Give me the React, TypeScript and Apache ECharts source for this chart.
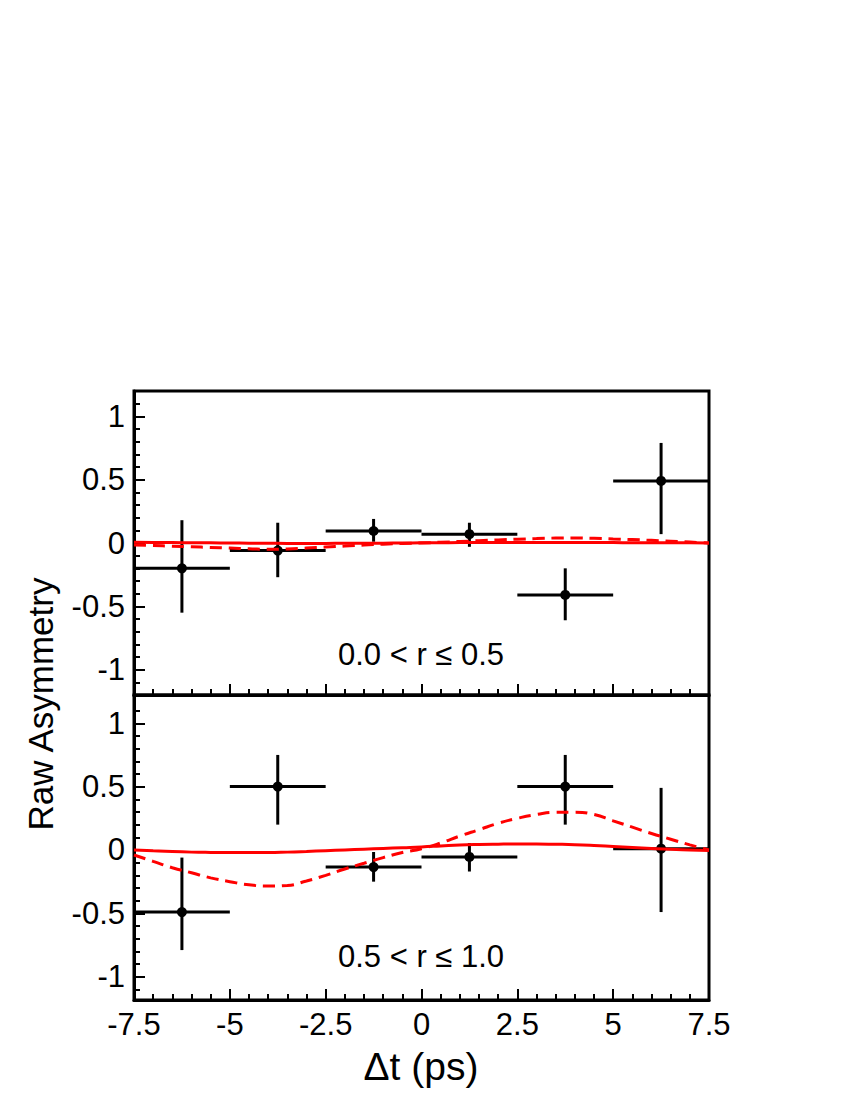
import React, { useEffect, useRef } from "react";
import * as echarts from "echarts";

// Bin centres (Δt, ps) and bin half width
const binCenters = [-6.25, -3.75, -1.25, 1.25, 3.75, 6.25];
const binHalfWidth = 1.25;

// Panel 1: 0.0 < r <= 0.5
const topValues = [-0.2, -0.06, 0.095, 0.07, -0.41, 0.49];
const topLow = [-0.55, -0.27, 0.01, -0.03, -0.61, 0.07];
const topHigh = [0.18, 0.16, 0.19, 0.16, -0.2, 0.79];

// Panel 2: 0.5 < r <= 1.0
const botValues = [-0.49, 0.5, -0.135, -0.055, 0.5, 0.01];
const botLow = [-0.79, 0.2, -0.25, -0.17, 0.2, -0.49];
const botHigh = [-0.06, 0.75, -0.016, 0.055, 0.75, 0.49];

// Fit curves sampled at these Δt values
const curveT = [
  -7.5, -7, -6.5, -6, -5.5, -5, -4.5, -4, -3.5, -3, -2.5, -2, -1.5, -1, -0.5, 0,
  0.5, 1, 1.5, 2, 2.5, 3, 3.5, 4, 4.5, 5, 5.5, 6, 6.5, 7, 7.5,
];
const topSolid = [
  0.005, 0.004, 0.003, 0.002, 0.001, 0, -0.001, -0.002, -0.003, -0.003, -0.003, -0.002, -0.002, -0.001, 0, 0.001,
  0.002, 0.003, 0.003, 0.004, 0.004, 0.004, 0.004, 0.004, 0.003, 0.003, 0.002, 0.002, 0.001, 0.001, 0,
];
const topDashed = [
  -0.015, -0.02, -0.025, -0.03, -0.035, -0.04, -0.045, -0.05, -0.048, -0.04, -0.032, -0.024, -0.016, -0.009, -0.004, 0,
  0.006, 0.012, 0.018, 0.024, 0.03, 0.035, 0.039, 0.04, 0.037, 0.032, 0.027, 0.021, 0.014, 0.007, 0,
];
const botSolid = [
  0, -0.007, -0.013, -0.017, -0.019, -0.02, -0.02, -0.02, -0.017, -0.012, -0.006, 0, 0.006, 0.012, 0.018, 0.024,
  0.032, 0.04, 0.044, 0.046, 0.047, 0.047, 0.045, 0.042, 0.036, 0.028, 0.02, 0.012, 0.005, 0, -0.005,
];
const botDashed = [
  -0.04, -0.09, -0.14, -0.18, -0.22, -0.25, -0.275, -0.285, -0.28, -0.245, -0.2, -0.15, -0.105, -0.06, -0.02, 0.01,
  0.055, 0.11, 0.16, 0.21, 0.25, 0.28, 0.297, 0.298, 0.28, 0.23, 0.18, 0.13, 0.085, 0.04, 0,
];

// Axis ticks
const yMajorTicks = [-1, -0.5, 0, 0.5, 1];
const yMinorTicks = [-1.1, -0.9, -0.8, -0.7, -0.6, -0.4, -0.3, -0.2, -0.1, 0.1, 0.2, 0.3, 0.4, 0.6, 0.7, 0.8, 0.9, 1.1];

const panelLabels = ["0.0 < r \u2264 0.5", "0.5 < r \u2264 1.0"];
const xTitle = "\u0394t (ps)";
const yTitle = "Raw Asymmetry";

const FONT = "Liberation Sans, Arial, Helvetica, sans-serif";

function errorSeries(xAxisIndex: number, yAxisIndex: number, values: number[], low: number[], high: number[]) {
  const data = binCenters.map((x, i) => [x, values[i], low[i], high[i]]);
  return {
    type: "custom",
    xAxisIndex,
    yAxisIndex,
    z: 2,
    clip: true,
    data,
    renderItem: (params: any, api: any) => {
      const x = api.value(0);
      const y = api.value(1);
      const lo = api.value(2);
      const hi = api.value(3);
      const pC = api.coord([x, y]);
      const pL = api.coord([x - binHalfWidth, y]);
      const pR = api.coord([x + binHalfWidth, y]);
      const pLo = api.coord([x, lo]);
      const pHi = api.coord([x, hi]);
      const st = { stroke: "#000", lineWidth: 3 };
      return {
        type: "group",
        children: [
          { type: "line", shape: { x1: pL[0], y1: pL[1], x2: pR[0], y2: pR[1] }, style: st },
          { type: "line", shape: { x1: pLo[0], y1: pLo[1], x2: pHi[0], y2: pHi[1] }, style: st },
          { type: "circle", shape: { cx: pC[0], cy: pC[1], r: 5 }, style: { fill: "#000" } },
        ],
      };
    },
  };
}

function curveSeries(xAxisIndex: number, yAxisIndex: number, ys: number[], dashed: boolean) {
  return {
    type: "line",
    xAxisIndex,
    yAxisIndex,
    z: 3,
    smooth: true,
    showSymbol: false,
    symbol: "none",
    data: curveT.map((t, i) => [t, ys[i]]),
    lineStyle: { color: "#ff0000", width: 3, type: dashed ? [12, 7] : "solid" },
  };
}

function xAxis(gridIndex: number, showLabels: boolean) {
  return {
    type: "value",
    gridIndex,
    min: -7.5,
    max: 7.5,
    interval: 2.5,
    axisLine: { show: true, onZero: false, lineStyle: { color: "#000", width: 3 } },
    axisTick: { show: true, inside: true, length: 11, lineStyle: { color: "#000", width: 2 } },
    minorTick: { show: true, splitNumber: 5, length: 6, lineStyle: { color: "#000", width: 2 } },
    axisLabel: {
      show: showLabels,
      color: "#000",
      fontSize: 31,
      fontFamily: FONT,
      margin: 9,
    },
    splitLine: { show: false },
    minorSplitLine: { show: false },
  };
}

function yAxes(gridIndex: number, min: number, max: number) {
  return [
    {
      type: "value",
      gridIndex,
      min,
      max,
      position: "left",
      axisLine: { show: true, onZero: false, lineStyle: { color: "#000", width: 3 } },
      axisTick: {
        show: true,
        inside: true,
        length: 11,
        customValues: yMajorTicks,
        lineStyle: { color: "#000", width: 2 },
      },
      axisLabel: {
        show: true,
        customValues: yMajorTicks,
        color: "#000",
        fontSize: 31,
        fontFamily: FONT,
        margin: 9,
        formatter: (v: number) => String(v),
      },
      splitLine: { show: false },
    },
    {
      type: "value",
      gridIndex,
      min,
      max,
      position: "left",
      offset: 0,
      axisLine: { show: false, onZero: false },
      axisTick: {
        show: true,
        inside: true,
        length: 6,
        customValues: yMinorTicks,
        lineStyle: { color: "#000", width: 2 },
      },
      axisLabel: { show: false },
      splitLine: { show: false },
    },
  ];
}

export default function App() {
  const ref = useRef<HTMLDivElement>(null);

  useEffect(() => {
    if (!ref.current) return;
    const chart = echarts.init(ref.current, null, { renderer: "svg" });
    const option: any = {
      animation: false,
      backgroundColor: "#fff",
      grid: [
        { left: 134, top: 391, width: 575, height: 304, show: true, borderColor: "#000", borderWidth: 3, backgroundColor: "transparent" },
        { left: 134, top: 695, width: 575, height: 305, show: true, borderColor: "#000", borderWidth: 3, backgroundColor: "transparent" },
      ],
      xAxis: [xAxis(0, false), xAxis(1, true)],
      yAxis: [...yAxes(0, -1.2, 1.2), ...yAxes(1, -1.184, 1.223)],
      series: [
        errorSeries(0, 0, topValues, topLow, topHigh),
        curveSeries(0, 0, topSolid, false),
        curveSeries(0, 0, topDashed, true),
        errorSeries(1, 2, botValues, botLow, botHigh),
        curveSeries(1, 2, botSolid, false),
        curveSeries(1, 2, botDashed, true),
      ],
      graphic: [
        {
          type: "text",
          x: 421,
          y: 654,
          style: { text: panelLabels[0], fill: "#000", font: `31px ${FONT}`, textAlign: "center", textVerticalAlign: "middle" },
        },
        {
          type: "text",
          x: 421,
          y: 956,
          style: { text: panelLabels[1], fill: "#000", font: `31px ${FONT}`, textAlign: "center", textVerticalAlign: "middle" },
        },
        {
          type: "text",
          x: 421,
          y: 1066,
          style: { text: xTitle, fill: "#000", font: `39px ${FONT}`, textAlign: "center", textVerticalAlign: "middle" },
        },
        {
          type: "text",
          x: 40,
          y: 704,
          rotation: Math.PI / 2,
          style: { text: yTitle, fill: "#000", font: `35px ${FONT}`, textAlign: "center", textVerticalAlign: "middle" },
        },
      ],
    };
    chart.setOption(option);
    return () => chart.dispose();
  }, []);

  return (
    <div
      ref={ref}
      style={{ position: "absolute", left: 0, top: 0, width: 850, height: 1100, background: "#fff" }}
    />
  );
}
